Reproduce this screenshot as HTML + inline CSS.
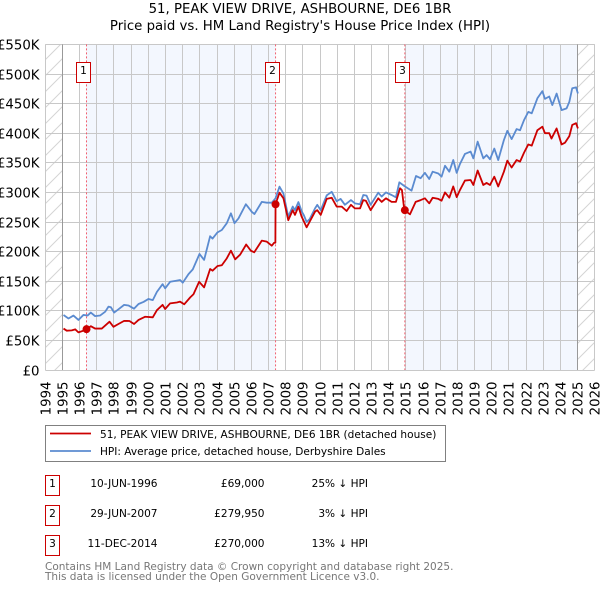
<!DOCTYPE html>
<html>
<head>
<meta charset="utf-8">
<title>51, Peak View Drive price chart</title>
<style>
html,body{margin:0;padding:0;background:#fff;}
svg{display:block;font-family:"DejaVu Sans","Liberation Sans",sans-serif;}
</style>
</head>
<body>
<svg id="chart" xmlns="http://www.w3.org/2000/svg" width="600" height="590" viewBox="0 0 600 590">
<defs>
<pattern id="hatch" width="16" height="16" patternUnits="userSpaceOnUse" patternTransform="translate(45 44)">
<path d="M-4 4 L4 -4 M0 16 L16 0 M12 20 L20 12" stroke="#d4d4d4" stroke-width="1" fill="none"/>
</pattern>
</defs>
<text x="300" y="13" text-anchor="middle" font-size="13.3" fill="#000">51, PEAK VIEW DRIVE, ASHBOURNE, DE6 1BR</text>
<text x="300" y="30" text-anchor="middle" font-size="13.3" fill="#000">Price paid vs. HM Land Registry's House Price Index (HPI)</text>
<g id="plot"></g>
<g>
<rect x="45.5" y="425.5" width="400" height="36" fill="#fff" stroke="#808080" stroke-width="1"/>
<line x1="50" y1="433.5" x2="91" y2="433.5" stroke="#cc0000" stroke-width="1.8"/>
<text x="100" y="438" font-size="10.55" fill="#000">51, PEAK VIEW DRIVE, ASHBOURNE, DE6 1BR (detached house)</text>
<line x1="50" y1="451" x2="91" y2="451" stroke="#5b8bd0" stroke-width="1.8"/>
<text x="100" y="455" font-size="10.55" fill="#000">HPI: Average price, detached house, Derbyshire Dales</text>
</g>
<g font-size="10.55" fill="#000">
<g>
<rect x="45.5" y="475.5" width="14" height="20" fill="#fff" stroke="#cc0000" stroke-width="1"/>
<text x="52.5" y="487" text-anchor="middle">1</text>
<text x="157.5" y="487" text-anchor="end">10-JUN-1996</text>
<text x="264.5" y="487" text-anchor="end">£69,000</text>
<text x="368" y="487" text-anchor="end">25% ↓ HPI</text>
</g>
<g>
<rect x="45.5" y="505.5" width="14" height="20" fill="#fff" stroke="#cc0000" stroke-width="1"/>
<text x="52.5" y="517" text-anchor="middle">2</text>
<text x="157.5" y="517" text-anchor="end">29-JUN-2007</text>
<text x="264.5" y="517" text-anchor="end">£279,950</text>
<text x="368" y="517" text-anchor="end">3% ↓ HPI</text>
</g>
<g>
<rect x="45.5" y="535.5" width="14" height="20" fill="#fff" stroke="#cc0000" stroke-width="1"/>
<text x="52.5" y="547" text-anchor="middle">3</text>
<text x="157.5" y="547" text-anchor="end">11-DEC-2014</text>
<text x="264.5" y="547" text-anchor="end">£270,000</text>
<text x="368" y="547" text-anchor="end">13% ↓ HPI</text>
</g>
</g>
<g font-size="10.5" fill="#777">
<text x="45" y="570">Contains HM Land Registry data © Crown copyright and database right 2025.</text>
<text x="45" y="580">This data is licensed under the Open Government Licence v3.0.</text>
</g>
</svg>
<script>
const xTickYears = [1994,1995,1996,1997,1998,1999,2000,2001,2002,2003,2004,2005,2006,2007,2008,2009,2010,2011,2012,2013,2014,2015,2016,2017,2018,2019,2020,2021,2022,2023,2024,2025,2026];
const yTickValues = [0,50,100,150,200,250,300,350,400,450,500,550];
const yTickLabels = ['£0','£50K','£100K','£150K','£200K','£250K','£300K','£350K','£400K','£450K','£500K','£550K'];
const hpiDates = [1995.06,1995.35,1995.64,1995.93,1996.22,1996.46,1996.65,1996.90,1997.19,1997.49,1997.68,1997.82,1998.01,1998.26,1998.59,1998.84,1999.17,1999.43,1999.72,2000.01,2000.26,2000.50,2000.83,2000.98,2001.27,2001.66,2001.85,2002.01,2002.34,2002.59,2002.98,2003.25,2003.60,2003.74,2004.03,2004.28,2004.57,2004.81,2005.02,2005.25,2005.68,2006.03,2006.18,2006.61,2006.90,2007.19,2007.41,2007.64,2007.87,2008.15,2008.41,2008.54,2008.74,2008.93,2009.05,2009.22,2009.40,2009.71,2009.84,2010.04,2010.39,2010.68,2010.97,2011.20,2011.45,2011.80,2012.03,2012.33,2012.52,2012.71,2012.95,2013.39,2013.59,2013.84,2014.17,2014.42,2014.62,2014.95,2015.33,2015.59,2015.86,2016.11,2016.36,2016.56,2016.89,2017.08,2017.28,2017.53,2017.76,2017.96,2018.15,2018.44,2018.77,2018.93,2019.18,2019.51,2019.70,2019.90,2020.15,2020.38,2020.71,2020.91,2021.16,2021.45,2021.65,2021.88,2022.13,2022.33,2022.66,2022.95,2023.10,2023.35,2023.53,2023.78,2024.07,2024.36,2024.52,2024.69,2024.91,2025.02];
const hpiValues = [92.9,87,92,84.5,93,92,97,91,92,98.5,107,106,97,102.5,110,109,103.6,111.5,115,120,118,132,145,138,149,151,152,147.5,162,170,196,186,226,222,232.5,236.5,248,264.6,248,256,280,267,263.5,284,282.6,282.6,290,309.7,298,259,276,270,283.6,268,262,250,255,273,279,270,295,301,285,289,279,287,281.5,280,295.6,294.5,279,299.5,293,300,295.6,291.7,317,310,303,327.7,324,333,322.6,335,332,326.6,345,335,354.7,333,348,365,369,357.5,385.7,357.5,363,356,374,354.7,388.5,404,390,407,405,422,436,433.6,459,471,458,462,447.6,467,439,442,453,476,477.5,467];
const paidDates = [1995.06,1995.25,1995.54,1995.74,1995.93,1996.22,1996.42,1996.65,1996.90,1997.29,1997.74,1997.97,1998.26,1998.59,1998.90,1999.17,1999.43,1999.82,2000.26,2000.50,2000.83,2000.98,2001.27,2001.66,2001.85,2002.09,2002.44,2002.63,2002.96,2003.25,2003.60,2003.74,2004.03,2004.28,2004.57,2004.81,2005.06,2005.35,2005.70,2005.97,2006.17,2006.61,2006.90,2007.19,2007.33,2007.40,2007.41,2007.64,2007.87,2008.15,2008.41,2008.54,2008.74,2008.93,2009.22,2009.71,2009.84,2010.04,2010.39,2010.68,2010.97,2011.26,2011.55,2011.80,2012.03,2012.33,2012.52,2012.67,2012.95,2013.39,2013.59,2013.84,2014.17,2014.42,2014.66,2014.77,2014.91,2015.24,2015.57,2015.86,2016.11,2016.36,2016.56,2016.89,2017.08,2017.28,2017.53,2017.76,2017.96,2018.15,2018.44,2018.77,2018.93,2019.18,2019.51,2019.70,2019.90,2020.15,2020.38,2020.71,2020.91,2021.16,2021.45,2021.65,2021.88,2022.13,2022.33,2022.66,2022.95,2023.10,2023.35,2023.48,2023.78,2024.07,2024.27,2024.52,2024.69,2024.91,2025.02];
const paidValues = [70,66.4,67,68.7,63.6,66.4,69,74,70,70,81.6,73,77.7,83,82.8,77.7,84.5,90,89,101,110,103,112.6,114,115.4,111,122.7,128,149,139.6,170.6,167.8,175.7,177,188.6,201.6,187,195,212,201.6,198.8,218.5,216.8,210,215,215,280,299.5,290,253,270,262,276,259,241,267.5,270,262,289,291,276,276,268.6,279,273,273,287,286,270,290,284,290,284,284,307,304,270,263,284,287,290,281.5,291,289,286,300,291,310,292,304,320,321,312.5,337,312.5,316,312.5,326.6,310,335,353.6,342,354.7,352,367,381,379,405,411,400,400,391,408,381,384,395,414,417,408];
const saleLabels = ['1','2','3'];
const saleDates = [1996.40,2007.41,2014.94];
const salePrices = [69,279.95,270];
const firstDataYear = 1995;
const lastDataYear = 2025.02;

const NS = 'http://www.w3.org/2000/svg';
const plot = document.getElementById('plot');
const xScale = function (year) { return 45.3 + (year - 1994) * 17.17; };
const yScale = function (value) { return 370 - value * 0.592; };
const make = function (tag, attrs, parent) {
  const el = document.createElementNS(NS, tag);
  Object.keys(attrs).forEach(function (k) { el.setAttribute(k, attrs[k]); });
  parent.appendChild(el);
  return el;
};
const crisp = function (v) { return Math.round(v - 0.5) + 0.5; };
const plotLeft = xScale(xTickYears[0]);
const plotRight = xScale(xTickYears[xTickYears.length - 1]);
const plotTop = yScale(yTickValues[yTickValues.length - 1]);
const plotBottom = yScale(0);

const bandStarts = [saleDates[0], saleDates[2]];
const bandEnds = [saleDates[1], lastDataYear];
bandStarts.forEach(function (start, i) {
  const band = make('rect', {x: xScale(start), y: plotTop, width: xScale(bandEnds[i]) - xScale(start), height: plotBottom - plotTop, fill: '#f3f7fe'}, plot);
  
  
});

const hatchLeft = make('rect', {x: plotLeft, y: plotTop, width: xScale(firstDataYear) - plotLeft, height: plotBottom - plotTop, fill: 'url(#hatch)'}, plot);


const hatchRight = make('rect', {x: xScale(lastDataYear), y: plotTop, width: plotRight - xScale(lastDataYear), height: plotBottom - plotTop, fill: 'url(#hatch)'}, plot);



xTickYears.forEach(function (year) {
  const px = crisp(xScale(year));
  const line = make('line', {x1: px, x2: px, y1: plotTop, y2: plotBottom, stroke: '#c8c8c8', 'stroke-width': 1}, plot);
  
  
  const label = make('text', {x: 0, y: 0, 'text-anchor': 'end', 'font-size': 13.3, fill: '#000', transform: 'translate(' + (px + 5) + ' 381.5) rotate(-90)'}, plot);
  label.textContent = String(year);
  
  
});
yTickValues.forEach(function (value, i) {
  const py = crisp(yScale(value));
  const line = make('line', {x1: plotLeft, x2: plotRight, y1: py, y2: py, stroke: '#c8c8c8', 'stroke-width': 1}, plot);
  
  
  const label = make('text', {x: 39.5, y: py + 5, 'text-anchor': 'end', 'font-size': 13.3, fill: '#000'}, plot);
  label.textContent = yTickLabels[i];
  
  
});

const dataStart = make('line', {x1: crisp(xScale(firstDataYear)), x2: crisp(xScale(firstDataYear)), y1: plotTop, y2: plotBottom, stroke: '#999', 'stroke-width': 1}, plot);


const dataEnd = make('line', {x1: crisp(xScale(lastDataYear)), x2: crisp(xScale(lastDataYear)), y1: plotTop, y2: plotBottom, stroke: '#999', 'stroke-width': 1}, plot);



saleDates.forEach(function (date) {
  const px = xScale(date);
  const rule = make('line', {x1: px, x2: px, y1: plotTop, y2: plotBottom, stroke: '#f06070', 'stroke-width': 1, 'stroke-dasharray': '2 2'}, plot);
  
  
});

const pathFrom = function (dates, values) {
  return dates.map(function (d, i) {
    return (i ? 'L' : 'M') + xScale(d).toFixed(2) + ' ' + yScale(values[i]).toFixed(2);
  }).join(' ');
};
const hpiLine = make('path', {d: pathFrom(hpiDates, hpiValues), fill: 'none', stroke: '#5b8bd0', 'stroke-width': 1.8, 'stroke-linejoin': 'round'}, plot);


const paidLine = make('path', {d: pathFrom(paidDates, paidValues), fill: 'none', stroke: '#cc0000', 'stroke-width': 1.8, 'stroke-linejoin': 'round'}, plot);



saleDates.forEach(function (date, i) {
  const px = xScale(date);
  const dot = make('circle', {cx: px, cy: yScale(salePrices[i]), r: 4, fill: '#cc0000'}, plot);
  
  
  const box = make('rect', {x: Math.round(px - 10.3) + 0.5, y: 62.5, width: 14, height: 20, fill: '#fff', stroke: '#cc0000', 'stroke-width': 1}, plot);
  
  
  const num = make('text', {x: Math.round(px - 10.3) + 7.5, y: 74, 'text-anchor': 'middle', 'font-size': 10.55, fill: '#000'}, plot);
  num.textContent = saleLabels[i];
  
  
});
</script>
</body>
</html>
